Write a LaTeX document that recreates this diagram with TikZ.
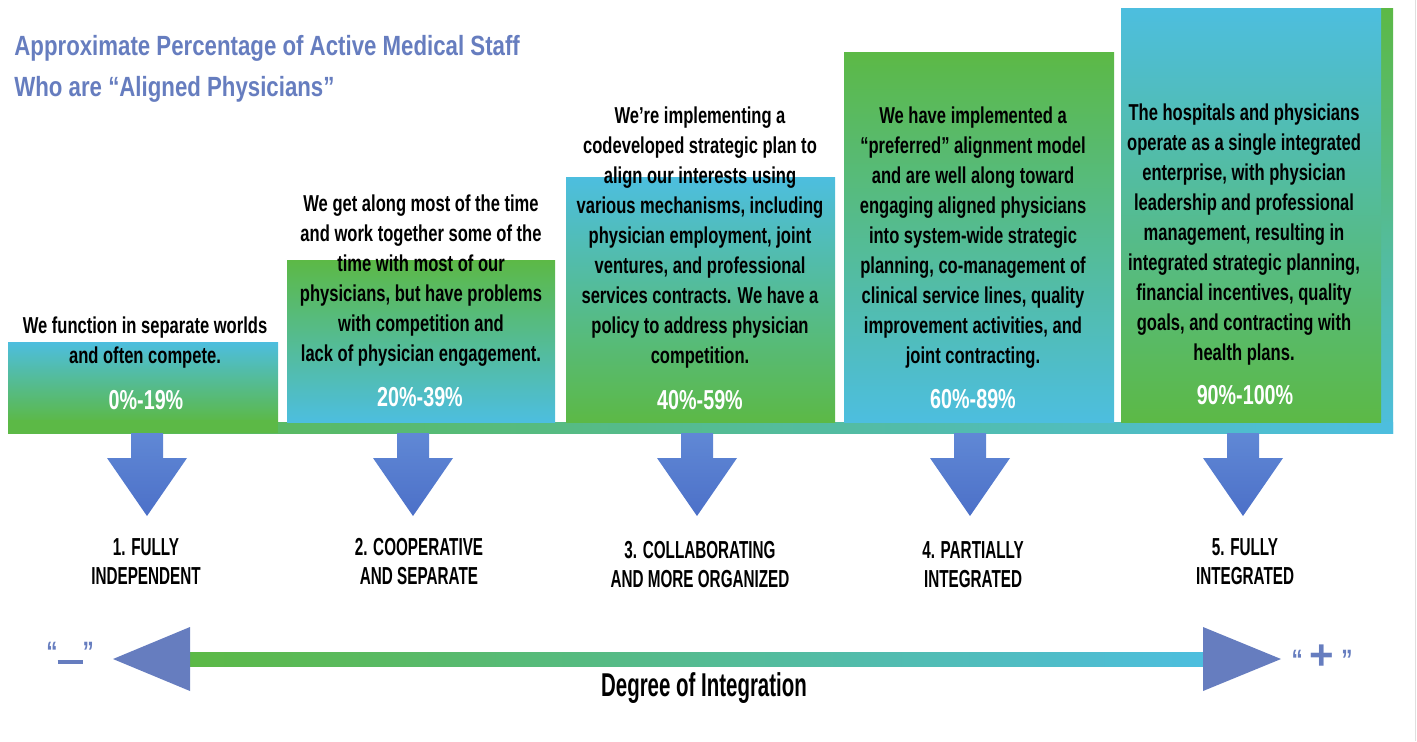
\documentclass[tikz,border=0pt]{standalone}
\usepackage{fontspec}
\newfontfamily\condfont{Liberation Sans}[FakeStretch=0.72]
\newfontfamily\stagefont{Liberation Sans}[FakeStretch=0.62]
\newfontfamily\headfont{Liberation Sans}[FakeStretch=0.8]
\newfontfamily\plainfont{Liberation Sans}
\usetikzlibrary{calc}
\definecolor{stagegreen}{RGB}{92,185,70}
\definecolor{stagecyan}{RGB}{77,190,223}
\definecolor{titleblue}{RGB}{102,125,191}
\definecolor{arrowblue}{RGB}{76,112,200}
\definecolor{arrowlight}{RGB}{96,136,213}
\tikzset {
    blurb/.style = {align = center, inner sep = 0pt, text = black,
        font = \condfont\bfseries\fontsize{11.5}{15}\selectfont},
    pct/.style = {inner sep = 0pt, text = white,
        font = \condfont\bfseries\fontsize{13.7}{16}\selectfont},
    stage/.style = {align = center, inner sep = 0pt, text = black,
        font = \stagefont\bfseries\fontsize{12.3}{14.5}\selectfont},
    heading/.style = {align = left, inner sep = 0pt, text = titleblue,
        font = \headfont\bfseries\fontsize{13.9}{20.5}\selectfont},
    axis label/.style = {inner sep = 0pt, text = titleblue,
        font = \headfont\bfseries\fontsize{14}{15}\selectfont},
    up bar/.style = {top color = stagecyan, bottom color = stagegreen},
    down bar/.style = {top color = stagegreen, bottom color = stagecyan},
    down arrow/.style = {top color = arrowlight, bottom color = arrowblue},
    axis head/.style = {fill = titleblue}
}
\begin{document}
\begin{tikzpicture}[x = 0.5pt, y = -0.5pt]
    \useasboundingbox (0, 0) rectangle (1417, 741);
    \draw [gray!25, line width = 0.5pt] (1415, 0) -- (1415, 741);
    % heading
    \node (head) [heading, anchor = west] at (14, 69)
        {Approximate Percentage of Active Medical Staff\\
         Who are \textquotedblleft Aligned Physicians\textquotedblright};
    % steps
    \shade [down bar] (1381, 8) rectangle (1393, 433);
    \shade [left color = stagegreen, right color = stagecyan]
        (8, 422) rectangle (1393, 433);
    \shade [up bar]   (8, 342) rectangle (278, 422);
    \shade [down bar] (287, 260) rectangle (555, 422);
    \shade [up bar]   (566, 177) rectangle (835, 422);
    \shade [down bar] (844, 52) rectangle (1114, 422);
    \shade [up bar]   (1121, 8) rectangle (1381, 422);
    \fill [stagegreen] (8, 420) rectangle (278, 433);
    \node (text1) [blurb] at (145, 343)
        {We function in separate worlds\\and often compete.};
    \node (text2) [blurb] at (421, 281)
        {We get along most of the time\\and work together some of the\\
         time with most of our\\physicians, but have problems\\
         with competition and\\lack of physician engagement.};
    \node (text3) [blurb] at (700, 238)
        {We’re implementing a\\codeveloped strategic plan to\\
         align our interests using\\various mechanisms, including\\
         physician employment, joint\\ventures, and professional\\
         services contracts. We have a\\policy to address physician\\
         competition.};
    \node (text4) [blurb] at (973, 238)
        {We have implemented a\\“preferred” alignment model\\
         and are well along toward\\engaging aligned physicians\\
         into system-wide strategic\\planning, co-management of\\
         clinical service lines, quality\\improvement activities, and\\
         joint contracting.};
    \node (text5) [blurb] at (1244, 235)
        {The hospitals and physicians\\operate as a single integrated\\
         enterprise, with physician\\leadership and professional\\
         management, resulting in\\integrated strategic planning,\\
         financial incentives, quality\\goals, and contracting with\\
         health plans.};
    \node (pct1) [pct] at (146, 400) {0\%-19\%};
    \node (pct2) [pct] at (420, 397) {20\%-39\%};
    \node (pct3) [pct] at (700, 400) {40\%-59\%};
    \node (pct4) [pct] at (973, 399) {60\%-89\%};
    \node (pct5) [pct] at (1245, 395) {90\%-100\%};
    % arrows to the stages
    \foreach \x/\n in {147/1, 413/2, 697/3, 970/4, 1243/5} {
        \shade [down arrow] ({\x-16}, 433) -- ({\x+16}, 433) -- ({\x+16}, 458)
            -- ({\x+40}, 458) -- (\x, 516) -- ({\x-40}, 458) -- ({\x-16}, 458)
            -- cycle;
    }
    \node (stage1) [stage] at (146, 562) {1. FULLY\\INDEPENDENT};
    \node (stage2) [stage] at (419, 562) {2. COOPERATIVE\\AND SEPARATE};
    \node (stage3) [stage] at (700, 565) {3. COLLABORATING\\AND MORE ORGANIZED};
    \node (stage4) [stage] at (973, 565) {4. PARTIALLY\\INTEGRATED};
    \node (stage5) [stage] at (1245, 562) {5. FULLY\\INTEGRATED};
    % degree of integration
    \coordinate (lo) at (113, 659);
    \coordinate (hi) at (1281, 659);
    \shade [left color = stagegreen, right color = stagecyan]
        ($(lo) + (77, -7)$) rectangle ($(hi) + (-76, 7)$);
    \fill [axis head] (lo) -- ++(77, -32) -- ++(0, 64) -- cycle;
    \fill [axis head] (hi) -- ++(-78, -32) -- ++(0, 64) -- cycle;
    \node (minus) [axis label] at (70, 653)
        {“\rule[-1.5pt]{12.5pt}{2.3pt}”};
    \node (plus) [axis label] at (1322, 657)
        {“{\plainfont\fontsize{21}{21}\selectfont\,+\,}”};
    \node (degree) [inner sep = 0pt,
        font = \stagefont\bfseries\fontsize{16.5}{18}\selectfont] at (704, 688)
        {Degree of Integration};
\end{tikzpicture}
\end{document}
